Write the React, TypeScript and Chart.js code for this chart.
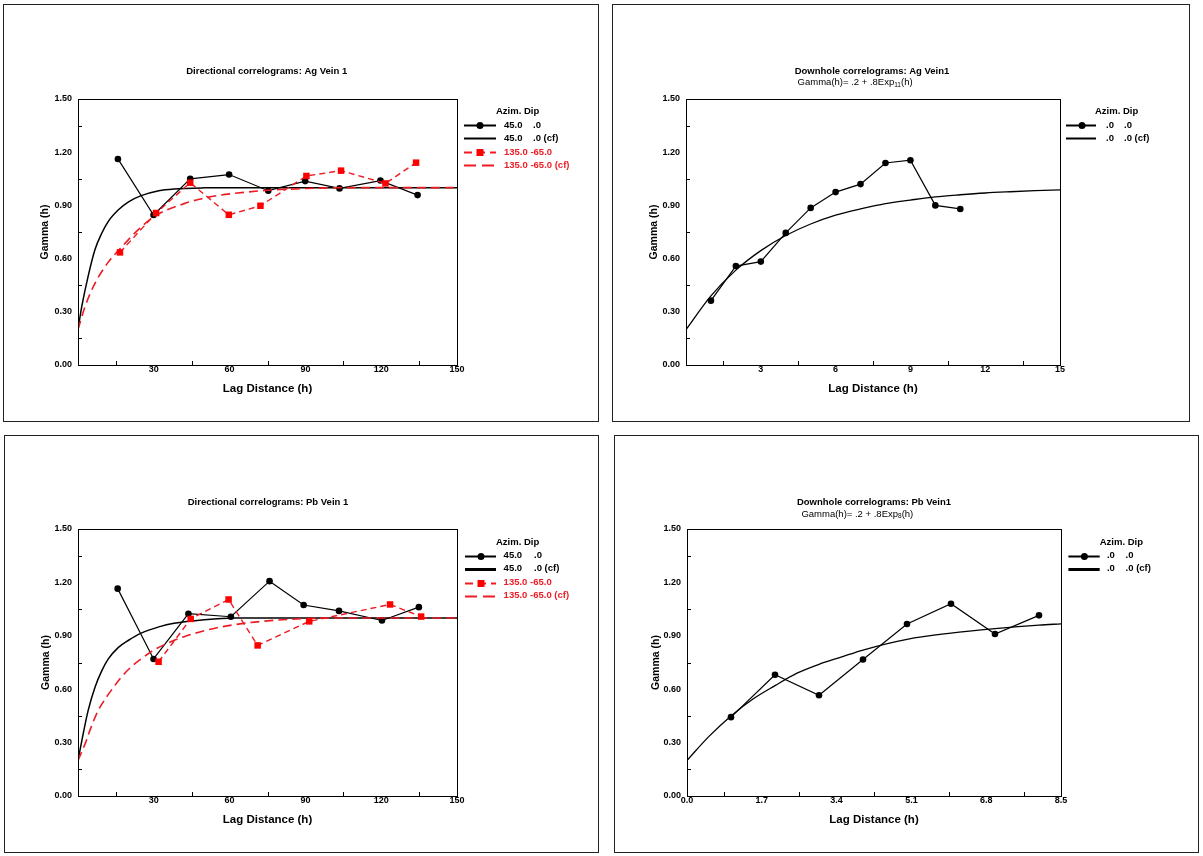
import React, { useEffect, useRef } from "react";
import { Chart, registerables } from "chart.js";

Chart.register(...registerables);

// ---------------- data ----------------
const gammaTicks = [0, 0.3, 0.6, 0.9, 1.2, 1.5];
const dirLagTicks = [0, 30, 60, 90, 120, 150];
const agDhLagTicks = [0, 3, 6, 9, 12, 15];
const pbDhLagTicks = [0, 1.7, 3.4, 5.1, 6.8, 8.5];

// Ag Vein 1, directional
const agDirLag45 = [15.8, 29.9, 44.4, 59.8, 75.3, 89.9, 103.5, 119.7, 134.4];
const agDirGamma45 = [1.162, 0.846, 1.05, 1.074, 0.983, 1.037, 0.996, 1.04, 0.958];
const agDirLag135 = [16.6, 30.9, 44.4, 59.7, 72.2, 90.4, 104.1, 121.7, 133.8];
const agDirGamma135 = [0.635, 0.857, 1.028, 0.847, 0.898, 1.066, 1.096, 1.024, 1.141];
const agDirCfLag45 = [0, 1.5, 4, 6.7, 9.3, 12, 16, 20, 25, 32, 38, 50, 62, 150];
const agDirCf45 = [0.2, 0.33, 0.5, 0.65, 0.74, 0.81, 0.875, 0.92, 0.955, 0.983, 0.993, 0.999, 1.0, 1.0];
const agDirCfLag135 = [0, 2.8, 6.7, 12, 16.6, 24, 31, 42, 48, 55, 62, 75, 90, 105, 150];
const agDirCf135 = [0.2, 0.33, 0.46, 0.58, 0.655, 0.765, 0.845, 0.91, 0.935, 0.955, 0.968, 0.985, 0.995, 1.0, 1.0];

// Ag Vein1, downhole
const agDhLag = [1, 2, 3, 4, 5, 6, 7, 8, 9, 10, 11];
const agDhGamma = [0.363, 0.558, 0.583, 0.745, 0.886, 0.975, 1.02, 1.139, 1.155, 0.9, 0.88];
const agDhCfLag = [0, 1, 2, 3, 4, 5, 6, 7, 8, 9, 10, 11, 12, 13, 14, 15];
const agDhCf = [0.2, 0.39, 0.535, 0.645, 0.73, 0.795, 0.845, 0.88, 0.91, 0.93, 0.948, 0.96, 0.97, 0.977, 0.983, 0.987];

// Pb Vein 1, directional
const pbDirLag45 = [15.7, 29.9, 43.7, 60.5, 75.8, 89.3, 103.3, 120.3, 134.9];
const pbDirGamma45 = [1.165, 0.77, 1.024, 1.007, 1.207, 1.073, 1.04, 0.986, 1.061];
const pbDirLag135 = [31.9, 44.6, 59.6, 71.1, 91.5, 123.5, 135.8];
const pbDirGamma135 = [0.754, 0.995, 1.104, 0.846, 0.981, 1.076, 1.008];
const pbDirCfLag45 = [0, 1.5, 4, 6.7, 9.3, 12, 16, 20, 25, 32, 38, 50, 62, 150];
const pbDirCf45 = [0.2, 0.31, 0.48, 0.61, 0.7, 0.77, 0.835, 0.875, 0.915, 0.95, 0.97, 0.99, 1.0, 1.0];
const pbDirCfLag135 = [0, 3, 5, 8, 11, 14, 17, 21, 25, 30, 35, 42, 55, 68, 81, 100, 150];
const pbDirCf135 = [0.2, 0.3, 0.38, 0.48, 0.55, 0.61, 0.665, 0.725, 0.77, 0.82, 0.855, 0.895, 0.945, 0.974, 0.99, 1.0, 1.0];

// Pb Vein1, downhole
const pbDhLag = [1, 2, 3, 4, 5, 6, 7, 8];
const pbDhGamma = [0.443, 0.681, 0.566, 0.767, 0.966, 1.08, 0.91, 1.015];
const pbDhCfLag = [0, 0.5, 1, 1.5, 2, 2.5, 3, 3.5, 4, 5, 6, 7, 8, 8.5];
const pbDhCf = [0.2, 0.335, 0.45, 0.545, 0.62, 0.69, 0.74, 0.78, 0.82, 0.88, 0.915, 0.94, 0.96, 0.967];

// texts
const legendHeader = "Azim. Dip";
const dirLegendAzim = ["45.0", "45.0", "135.0", "135.0"];
const dirLegendDip = [".0", ".0 (cf)", "-65.0", "-65.0 (cf)"];
const dhLegendAzim = [".0", ".0"];
const dhLegendDip = [".0", ".0 (cf)"];
const xAxisTitle = "Lag Distance (h)";
const yAxisTitle = "Gamma (h)";
const agDirTitle = "Directional correlograms: Ag Vein 1";
const agDhTitle = "Downhole correlograms: Ag Vein1";
const pbDirTitle = "Directional correlograms: Pb Vein 1";
const pbDhTitle = "Downhole correlograms: Pb Vein1";
const agDhModel = ["Gamma(h)= .2 + .8Exp", "11", "(h)"];
const pbDhModel = ["Gamma(h)= .2 + .8Exp", "8", "(h)"];

// ---------------- styles ----------------
const FONT = "'Liberation Sans', Arial, Helvetica, sans-serif";
const BLACK = "#000000";
const RED_LINE = "#ec1c24";
const RED_MARK = "#ff0000";
const RED_TEXT = "#ee1c25";

const pts = (xs: number[], ys: number[]) => xs.map((x, i) => ({ x, y: ys[i] }));

const blackData = (xs: number[], ys: number[]) => ({
  data: pts(xs, ys),
  showLine: true,
  borderColor: BLACK,
  borderWidth: 1.2,
  pointRadius: 3.3,
  pointStyle: "circle",
  pointBackgroundColor: BLACK,
  pointBorderColor: BLACK,
  pointBorderWidth: 0,
  order: 2,
});
const blackCf = (xs: number[], ys: number[], w: number) => ({
  data: pts(xs, ys),
  showLine: true,
  borderColor: BLACK,
  borderWidth: w,
  pointRadius: 0,
  cubicInterpolationMode: "monotone",
  order: 3,
});
const redData = (xs: number[], ys: number[]) => ({
  data: pts(xs, ys),
  showLine: true,
  borderColor: RED_LINE,
  borderWidth: 1.4,
  borderDash: [6, 4],
  pointRadius: 4.6,
  pointStyle: "rect",
  pointBackgroundColor: RED_MARK,
  pointBorderColor: RED_MARK,
  pointBorderWidth: 0,
  order: 0,
});
const redCf = (xs: number[], ys: number[]) => ({
  data: pts(xs, ys),
  showLine: true,
  borderColor: RED_LINE,
  borderWidth: 1.6,
  borderDash: [9, 5],
  pointRadius: 0,
  cubicInterpolationMode: "monotone",
  order: 1,
});

type Row = { c1: string; c2: string; c2x: number; color: string; dash: number[]; width: number; marker: string };

const dirRows = (cfW: number, c2Black: number): Row[] => [
  { c1: dirLegendAzim[0], c2: dirLegendDip[0], c2x: c2Black, color: BLACK, dash: [], width: 2, marker: "circle" },
  { c1: dirLegendAzim[1], c2: dirLegendDip[1], c2x: c2Black, color: BLACK, dash: [], width: cfW, marker: "" },
  { c1: `${dirLegendAzim[2]} ${dirLegendDip[2]}`, c2: "", c2x: 0, color: RED_TEXT, dash: [8, 5], width: 2, marker: "rect" },
  { c1: `${dirLegendAzim[3]} ${dirLegendDip[3]}`, c2: "", c2x: 0, color: RED_TEXT, dash: [12, 6], width: 2.2, marker: "" },
];
const dhRows = (cfW: number, c2: number): Row[] => [
  { c1: dhLegendAzim[0], c2: dhLegendDip[0], c2x: c2, color: BLACK, dash: [], width: 2, marker: "circle" },
  { c1: dhLegendAzim[1], c2: dhLegendDip[1], c2x: c2, color: BLACK, dash: [], width: cfW, marker: "" },
];

const panels = [
  {
    box: { left: 3, top: 4, width: 596, height: 418 },
    plot: { left: 74, top: 94, right: 453, bottom: 360 },
    yTitleX: 41.5, xTitleY: 384.3,
    title: agDirTitle, titleX: 262.7, titleY: 66.7, model: null as any, modelX: 0, modelY: 0,
    xMax: 150, xTicks: dirLagTicks, xDec: 0, showZero: false,
    datasets: [blackData(agDirLag45, agDirGamma45), blackCf(agDirCfLag45, agDirCf45, 1.5), redData(agDirLag135, agDirGamma135), redCf(agDirCfLag135, agDirCf135)],
    legend: { hx: 492, hy: 106, rowY: [120, 133, 147, 160], lx1: 460, lx2: 492, mx: 476, tx: 500, rows: dirRows(2, 529) },
  },
  {
    box: { left: 612, top: 4, width: 578, height: 418 },
    plot: { left: 73, top: 94, right: 447, bottom: 360 },
    yTitleX: 41.5, xTitleY: 384.3,
    title: agDhTitle, titleX: 259, titleY: 66.7, model: agDhModel, modelX: 184.6, modelY: 77.7,
    xMax: 15, xTicks: agDhLagTicks, xDec: 0, showZero: false,
    datasets: [blackData(agDhLag, agDhGamma), blackCf(agDhCfLag, agDhCf, 1.3)],
    legend: { hx: 482, hy: 106, rowY: [120, 133], lx1: 453, lx2: 483, mx: 469, tx: 493, rows: dhRows(2, 511) },
  },
  {
    box: { left: 4, top: 435, width: 595, height: 418 },
    plot: { left: 73, top: 93, right: 452, bottom: 360 },
    yTitleX: 41, xTitleY: 384,
    title: pbDirTitle, titleX: 263, titleY: 66.7, model: null as any, modelX: 0, modelY: 0,
    xMax: 150, xTicks: dirLagTicks, xDec: 0, showZero: false,
    datasets: [blackData(pbDirLag45, pbDirGamma45), blackCf(pbDirCfLag45, pbDirCf45, 1.5), redData(pbDirLag135, pbDirGamma135), redCf(pbDirCfLag135, pbDirCf135)],
    legend: { hx: 491, hy: 106.7, rowY: [119.7, 132.7, 146.7, 159.7], lx1: 460, lx2: 491, mx: 476, tx: 498.6, rows: dirRows(3, 529) },
  },
  {
    box: { left: 614, top: 435, width: 585, height: 418 },
    plot: { left: 72, top: 93, right: 446, bottom: 360 },
    yTitleX: 41, xTitleY: 384,
    title: pbDhTitle, titleX: 259, titleY: 66.7, model: pbDhModel, modelX: 186.4, modelY: 78,
    xMax: 8.5, xTicks: pbDhLagTicks, xDec: 1, showZero: true,
    datasets: [blackData(pbDhLag, pbDhGamma), blackCf(pbDhCfLag, pbDhCf, 1.3)],
    legend: { hx: 484.7, hy: 106.7, rowY: [119.7, 132.7], lx1: 453.4, lx2: 484.7, mx: 469.4, tx: 491.9, rows: dhRows(3, 510.6) },
  },
];

type Panel = (typeof panels)[number];

function makeDecor(p: Panel) {
  return {
    id: "decor",
    afterDatasetsDraw(chart: any) {
      const ctx: CanvasRenderingContext2D = chart.ctx;
      const a = chart.chartArea;
      const xs = chart.scales.x;
      const ys = chart.scales.y;
      ctx.save();
      ctx.strokeStyle = BLACK;
      ctx.lineWidth = 1;
      ctx.setLineDash([]);
      ctx.strokeRect(Math.round(a.left) + 0.5, Math.round(a.top) + 0.5, Math.round(a.right - a.left), Math.round(a.bottom - a.top));
      ctx.beginPath();
      for (let i = 0; i < p.xTicks.length - 1; i++) {
        const px = Math.round(xs.getPixelForValue((p.xTicks[i] + p.xTicks[i + 1]) / 2)) + 0.5;
        ctx.moveTo(px, a.bottom);
        ctx.lineTo(px, a.bottom - 4);
      }
      for (let i = 0; i < gammaTicks.length - 1; i++) {
        const py = Math.round(ys.getPixelForValue((gammaTicks[i] + gammaTicks[i + 1]) / 2)) + 0.5;
        ctx.moveTo(a.left, py);
        ctx.lineTo(a.left + 4, py);
      }
      ctx.stroke();
      ctx.restore();
    },
    afterDraw(chart: any) {
      const ctx: CanvasRenderingContext2D = chart.ctx;
      ctx.save();
      ctx.textBaseline = "middle";
      ctx.fillStyle = BLACK;
      // title
      ctx.font = `bold 9.5px ${FONT}`;
      ctx.textAlign = "center";
      ctx.fillText(p.title, p.titleX, p.titleY);
      // model subtitle
      if (p.model) {
        ctx.textAlign = "left";
        let x = p.modelX;
        ctx.font = `9.5px ${FONT}`;
        ctx.fillText(p.model[0], x, p.modelY);
        x += ctx.measureText(p.model[0]).width;
        ctx.font = `6.5px ${FONT}`;
        ctx.fillText(p.model[1], x, p.modelY + 2.5);
        x += ctx.measureText(p.model[1]).width;
        ctx.font = `9.5px ${FONT}`;
        ctx.fillText(p.model[2], x, p.modelY);
      }
      // legend
      const L = p.legend;
      ctx.textAlign = "left";
      ctx.font = `bold 9.5px ${FONT}`;
      ctx.fillStyle = BLACK;
      ctx.fillText(legendHeader, L.hx, L.hy);
      L.rows.forEach((r, i) => {
        const y = Math.round(L.rowY[i]) + 0.5;
        ctx.strokeStyle = r.color;
        ctx.lineWidth = r.width;
        ctx.setLineDash(r.dash);
        ctx.beginPath();
        ctx.moveTo(L.lx1, y);
        ctx.lineTo(L.lx2, y);
        ctx.stroke();
        ctx.setLineDash([]);
        if (r.marker === "circle") {
          ctx.fillStyle = r.color;
          ctx.beginPath();
          ctx.arc(L.mx, y, 3.5, 0, Math.PI * 2);
          ctx.fill();
        } else if (r.marker === "rect") {
          ctx.fillStyle = RED_MARK;
          ctx.fillRect(L.mx - 3.5, y - 3.5, 7, 7);
        }
        ctx.fillStyle = r.color;
        ctx.fillText(r.c1, L.tx, L.rowY[i]);
        if (r.c2) ctx.fillText(r.c2, r.c2x, L.rowY[i]);
      });
      ctx.restore();
    },
  };
}

function ChartPanel({ p }: { p: Panel }) {
  const ref = useRef<HTMLCanvasElement>(null);
  const W = p.box.width - 2;
  const H = p.box.height - 2;
  useEffect(() => {
    if (!ref.current) return;
    const tickFont = { family: FONT, size: 9, weight: "bold" as const, lineHeight: 1 };
    const chart = new Chart(ref.current, {
      type: "scatter",
      data: { datasets: p.datasets as any },
      options: {
        animation: false,
        responsive: false,
        maintainAspectRatio: false,
        devicePixelRatio: 1,
        events: [],
        layout: { padding: { left: 0, top: p.plot.top, right: W - p.plot.right, bottom: 0 } },
        plugins: { legend: { display: false }, tooltip: { enabled: false }, title: { display: false } },
        scales: {
          x: {
            type: "linear",
            position: "bottom",
            min: 0,
            max: p.xMax,
            afterBuildTicks: (s: any) => {
              s.ticks = p.xTicks.map((v) => ({ value: v }));
            },
            afterFit: (s: any) => {
              s.height = H - p.plot.bottom;
            },
            grid: { display: false, drawTicks: false },
            border: { display: false },
            ticks: {
              autoSkip: false,
              maxRotation: 0,
              padding: 0.5,
              color: BLACK,
              font: tickFont,
              callback: (v: any) => (Number(v) === 0 && !p.showZero ? "" : Number(v).toFixed(p.xDec)),
            },
            title: {
              display: true,
              text: xAxisTitle,
              color: BLACK,
              font: { family: FONT, size: 11.5, weight: "bold", lineHeight: 1 },
              padding: { top: 0, bottom: H - p.xTitleY - 5.75 },
            },
          },
          y: {
            type: "linear",
            position: "left",
            min: 0,
            max: 1.5,
            afterBuildTicks: (s: any) => {
              s.ticks = gammaTicks.map((v) => ({ value: v }));
            },
            afterFit: (s: any) => {
              s.width = p.plot.left;
            },
            grid: { display: false, drawTicks: false },
            border: { display: false },
            ticks: {
              autoSkip: false,
              padding: 6,
              color: BLACK,
              font: tickFont,
              callback: (v: any) => Number(v).toFixed(2),
            },
            title: {
              display: true,
              text: yAxisTitle,
              color: BLACK,
              font: { family: FONT, size: 10.5, weight: "bold", lineHeight: 1 },
              padding: { top: p.yTitleX - 5.25, bottom: 0 },
            },
          },
        },
      } as any,
      plugins: [makeDecor(p)],
    });
    return () => chart.destroy();
  }, [p]);
  return (
    <div
      style={{
        position: "absolute",
        left: p.box.left,
        top: p.box.top,
        width: W,
        height: H,
        border: "1px solid #222",
        background: "#fff",
      }}
    >
      <canvas ref={ref} width={W} height={H} style={{ display: "block", width: W, height: H }} />
    </div>
  );
}

export default function App() {
  return (
    <div>
      {panels.map((p, i) => (
        <ChartPanel key={i} p={p} />
      ))}
    </div>
  );
}
